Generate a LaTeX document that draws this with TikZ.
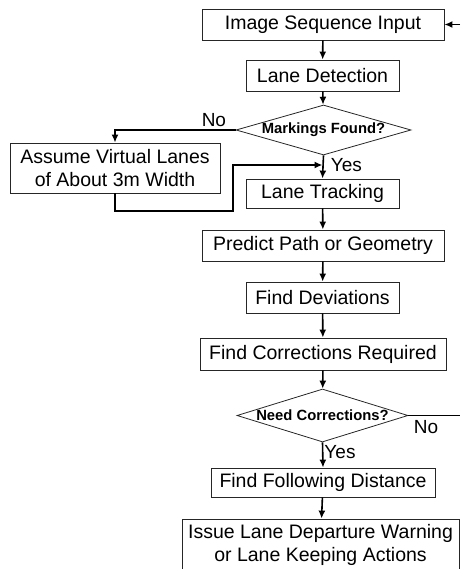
\documentclass[tikz,border=0pt]{standalone}
\usepackage{fontspec}
\setmainfont{Liberation Sans}
\usetikzlibrary{shapes.geometric,arrows.meta}

\tikzset{
  stepbox/.style={draw=black!85,line width=0.8pt,rectangle,inner sep=0pt,
    align=center,font=\fontsize{19.5}{23}\selectfont},
  choice/.style={draw=black!85,line width=0.8pt,diamond,aspect=3.5,inner sep=0pt,
    font=\bfseries\fontsize{14.8}{16}\selectfont},
  flow/.style={line width=1.6pt,->},
  lbl/.style={inner sep=1pt,font=\fontsize{19}{22}\selectfont}
}

\begin{document}
\begin{tikzpicture}[x=1pt,y=-1pt,line cap=butt,line join=miter,>={Latex[length=8pt,width=7pt]}]
  \useasboundingbox (0,0) rectangle (460,569);
  % boxes of the main column
  \node[stepbox,minimum width=242,minimum height=31] (input) at (323,24.5) {Image Sequence Input};
  \node[stepbox,minimum width=153,minimum height=31] (detect) at (322.5,75.5) {Lane Detection};
  \node[choice,minimum width=175,minimum height=50] (marks) at (323.5,130) {Markings Found?};
  \node[stepbox,minimum width=210,minimum height=50] (assume) at (115,168) {Assume Virtual Lanes\\of About 3m Width};
  \node[stepbox,minimum width=153,minimum height=29] (track) at (322.5,193.5) {Lane Tracking};
  \node[stepbox,minimum width=242,minimum height=31] (predict) at (323,245.5) {Predict Path or Geometry};
  \node[stepbox,minimum width=153,minimum height=31] (deviate) at (322.5,297.5) {Find Deviations};
  \node[stepbox,minimum width=246,minimum height=32] (correct) at (323,354) {Find Corrections Required};
  \node[choice,minimum width=171,minimum height=53] (need) at (322.5,415.5) {Need Corrections?};
  \node[stepbox,minimum width=224,minimum height=29] (follow) at (323,482.5) {Find Following Distance};
  \node[stepbox,minimum width=277,minimum height=52] (issue) at (320.5,545) {Issue Lane Departure Warning\\or Lane Keeping Actions};

  % free ends of the connectors
  \coordinate (inR) at (460,24.5);
  \coordinate (noR) at (460,415.5);
  \coordinate (loopc) at (233,211);
  \coordinate (merge) at (322.5,165);

  % connectors
  \draw[flow] (inR) -- (input.east);
  \draw[flow] (input) -- (detect);
  \draw[flow] (detect) -- (marks);
  \draw[flow] (marks.west) -| node[lbl,pos=0.09,above=2pt] (no1) {No} (assume.north);
  \draw[flow] (marks.south) -- node[lbl,pos=0.42,right=6pt] (yes1) {Yes} (track.north);
  \draw[flow] (assume.south) |- (loopc) |- (merge);
  \draw[flow] (track) -- (predict);
  \draw[flow] (predict) -- (deviate);
  \draw[flow] (deviate) -- (correct);
  \draw[flow] (correct) -- (need);
  \draw[line width=1.6pt] (need.east) -- node[lbl,pos=0.34,below=3pt] (no2) {No} (noR);
  \draw[flow] (need.south) -- node[lbl,pos=0.38,right=0pt] (yes2) {Yes} (follow.north);
  \draw[flow] (follow) -- (issue);
\end{tikzpicture}
\end{document}
